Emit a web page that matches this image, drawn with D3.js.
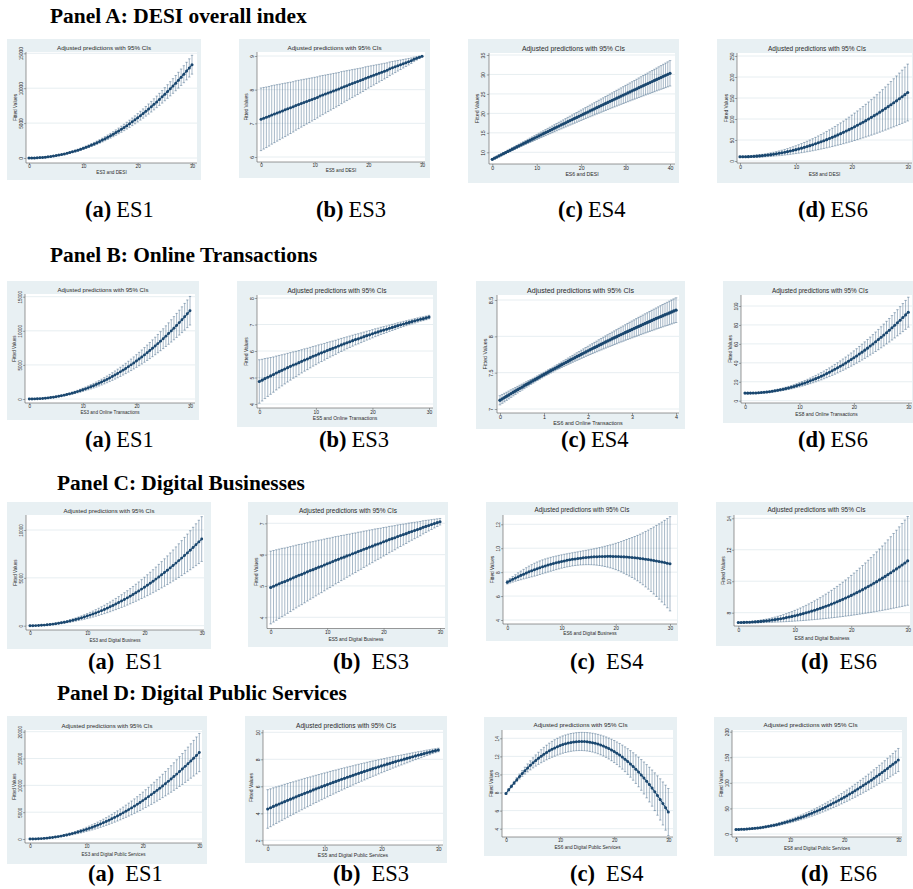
<!DOCTYPE html>
<html><head><meta charset="utf-8">
<script src="https://cdn.jsdelivr.net/npm/d3@7"></script>
<style>body{margin:0;background:#fff}svg{display:block}</style>
</head><body>
<svg id="c" width="913" height="889"></svg>
<script>
// ---------- x grids ----------
const X30=[0,0.5,1,1.5,2,2.5,3,3.5,4,4.5,5,5.5,6,6.5,7,7.5,8,8.5,9,9.5,10,10.5,11,11.5,12,12.5,13,13.5,14,14.5,15,15.5,16,16.5,17,17.5,18,18.5,19,19.5,20,20.5,21,21.5,22,22.5,23,23.5,24,24.5,25,25.5,26,26.5,27,27.5,28,28.5,29,29.5,30];
const X40=[0,0.5,1,1.5,2,2.5,3,3.5,4,4.5,5,5.5,6,6.5,7,7.5,8,8.5,9,9.5,10,10.5,11,11.5,12,12.5,13,13.5,14,14.5,15,15.5,16,16.5,17,17.5,18,18.5,19,19.5,20,20.5,21,21.5,22,22.5,23,23.5,24,24.5,25,25.5,26,26.5,27,27.5,28,28.5,29,29.5,30,30.5,31,31.5,32,32.5,33,33.5,34,34.5,35,35.5,36,36.5,37,37.5,38,38.5,39,39.5,40];
const X4=[0,0.05,0.1,0.15,0.2,0.25,0.3,0.35,0.4,0.45,0.5,0.55,0.6,0.65,0.7,0.75,0.8,0.85,0.9,0.95,1,1.05,1.1,1.15,1.2,1.25,1.3,1.35,1.4,1.45,1.5,1.55,1.6,1.65,1.7,1.75,1.8,1.85,1.9,1.95,2,2.05,2.1,2.15,2.2,2.25,2.3,2.35,2.4,2.45,2.5,2.55,2.6,2.65,2.7,2.75,2.8,2.85,2.9,2.95,3,3.05,3.1,3.15,3.2,3.25,3.3,3.35,3.4,3.45,3.5,3.55,3.6,3.65,3.7,3.75,3.8,3.85,3.9,3.95,4];

// ---------- Panel A: DESI overall index (fitted value, CI half-width) ----------
const A1_fit=[0,3,14,31,54,85,123,167,219,277,343,416,496,583,677,778,887,1003,1126,1257,1395,1541,1693,1854,2022,2197,2380,2571,2770,2976,3189,3411,3640,3878,4123,4376,4636,4905,5182,5467,5760,6061,6370,6688,7013,7347,7689,8039,8398,8765,9141,9525,9917,10318,10727,11145,11572,12007,12451,12904,13365];
const A1_hw=[0,0.4,1.5,3.4,6,9.4,13.5,18.4,24,30.4,37.5,45.4,54,63.4,73.5,84.4,96,108,122,135,150,165,182,198,216,234,254,273,294,315,338,360,384,408,434,459,486,513,542,570,600,630,662,693,726,759,794,828,864,900,938,975,1014,1053,1094,1134,1176,1218,1262,1305,1350];
const A2_fit=[7.12,7.15,7.18,7.21,7.25,7.28,7.31,7.34,7.37,7.40,7.43,7.46,7.49,7.53,7.56,7.59,7.62,7.65,7.68,7.71,7.74,7.77,7.81,7.84,7.87,7.90,7.93,7.96,7.99,8.02,8.06,8.09,8.12,8.15,8.18,8.21,8.24,8.27,8.30,8.34,8.37,8.40,8.43,8.46,8.49,8.52,8.55,8.58,8.62,8.65,8.68,8.71,8.74,8.77,8.80,8.83,8.86,8.90,8.93,8.96,8.99];
const A2_hw=[.93,.915,.90,.885,.869,.854,.839,.824,.809,.794,.779,.763,.748,.733,.718,.703,.688,.672,.657,.642,.627,.612,.597,.582,.566,.551,.536,.521,.506,.491,.476,.460,.445,.430,.415,.400,.385,.369,.354,.339,.324,.309,.294,.279,.263,.248,.233,.218,.203,.188,.173,.157,.142,.127,.112,.097,.082,.066,.051,.036,.021];
const A3_fit=[8.20,8.49,8.78,9.07,9.36,9.65,9.93,10.22,10.51,10.80,11.08,11.37,11.66,11.94,12.23,12.51,12.80,13.08,13.36,13.65,13.93,14.21,14.50,14.78,15.06,15.34,15.62,15.90,16.19,16.47,16.75,17.02,17.30,17.58,17.86,18.14,18.42,18.69,18.97,19.25,19.52,19.80,20.08,20.35,20.63,20.90,21.18,21.45,21.72,22.00,22.27,22.54,22.81,23.09,23.36,23.63,23.90,24.17,24.44,24.71,24.98,25.25,25.52,25.79,26.05,26.32,26.59,26.86,27.12,27.39,27.66,27.92,28.19,28.45,28.72,28.98,29.24,29.51,29.77,30.03,30.30];
const A3_hw=[.15,.17,.19,.21,.23,.26,.28,.30,.33,.35,.37,.40,.42,.45,.48,.50,.53,.56,.59,.62,.65,.68,.71,.74,.77,.80,.83,.86,.90,.93,.96,1.00,1.03,1.07,1.11,1.14,1.18,1.22,1.25,1.29,1.33,1.37,1.41,1.45,1.49,1.53,1.57,1.62,1.66,1.70,1.74,1.79,1.83,1.88,1.92,1.97,2.02,2.06,2.11,2.16,2.21,2.25,2.30,2.35,2.40,2.45,2.51,2.56,2.61,2.66,2.71,2.77,2.82,2.88,2.93,2.99,3.04,3.10,3.16,3.21,3.27];
const A4_fit=[10,10.04,10.17,10.38,10.68,11.06,11.53,12.08,12.72,13.44,14.25,15.14,16.12,17.18,18.33,19.56,20.88,22.28,23.77,25.34,27.0,28.74,30.57,32.48,34.48,36.56,38.73,40.98,43.32,45.74,48.25,50.84,53.52,56.28,59.13,62.06,65.08,68.18,71.37,74.64,78.0,81.44,84.97,88.58,92.28,96.06,99.93,103.88,107.92,112.04,116.25,120.54,124.92,129.38,133.93,138.56,143.28,148.08,152.97,157.94,163.0];
const A4_hw=[2.0,2.02,2.07,2.16,2.29,2.46,2.66,2.89,3.17,3.48,3.83,4.21,4.63,5.08,5.58,6.11,6.67,7.27,7.91,8.59,9.3,10.05,10.83,11.65,12.51,13.41,14.34,15.3,16.31,17.35,18.43,19.54,20.69,21.87,23.1,24.36,25.65,26.98,28.35,29.76,31.2,32.68,34.19,35.74,37.33,38.96,40.62,42.31,44.05,45.82,47.63,49.47,51.35,53.26,55.22,57.21,59.23,61.29,63.39,65.53,67.7];

// ---------- Panel B: Online Transactions ----------
const B1_fit=[0,3,13,29,52,82,118,161,211,267,331,401,478,562,653,751,856,968,1087,1213,1346,1487,1634,1789,1951,2121,2298,2482,2674,2873,3080,3295,3516,3746,3983,4228,4480,4741,5009,5284,5568,5860,6159,6466,6782,7105,7437,7776,8124,8480,8844,9216,9596,9985,10382,10788,11202,11624,12055,12494,12942];
const B1_hw=[0,0.6,2.3,5.2,9.3,14.6,21,28.5,37.3,47.2,58.3,70.5,83.9,98.4,114,131,149,168,189,210,233,257,282,308,336,364,394,425,457,490,524,560,596,634,673,714,755,797,841,886,932,979,1028,1077,1128,1180,1233,1287,1342,1399,1456,1515,1575,1636,1699,1762,1827,1893,1960,2028,2097];
const B2_fit=[4.85,4.90,4.96,5.01,5.06,5.11,5.17,5.22,5.27,5.32,5.37,5.42,5.47,5.51,5.56,5.61,5.66,5.70,5.75,5.80,5.84,5.89,5.93,5.97,6.02,6.06,6.10,6.14,6.19,6.23,6.27,6.31,6.35,6.39,6.43,6.46,6.50,6.54,6.58,6.61,6.65,6.69,6.72,6.76,6.79,6.82,6.86,6.89,6.92,6.96,6.99,7.02,7.05,7.08,7.11,7.14,7.17,7.20,7.22,7.25,7.28];
const B2_hw=[.820,.787,.755,.724,.694,.666,.639,.613,.588,.564,.541,.519,.497,.477,.457,.439,.421,.404,.387,.371,.356,.342,.328,.314,.302,.289,.277,.266,.255,.245,.235,.225,.216,.207,.199,.191,.183,.175,.168,.161,.155,.148,.142,.136,.131,.126,.120,.115,.111,.106,.102,.098,.094,.090,.086,.083,.079,.076,.073,.070,.067];
const B3_fit=[7.120,7.139,7.157,7.175,7.193,7.212,7.230,7.248,7.266,7.284,7.301,7.319,7.337,7.354,7.372,7.389,7.406,7.424,7.441,7.458,7.475,7.492,7.509,7.526,7.542,7.559,7.576,7.592,7.609,7.625,7.641,7.658,7.674,7.690,7.706,7.722,7.737,7.753,7.769,7.785,7.800,7.816,7.831,7.846,7.861,7.877,7.892,7.907,7.922,7.937,7.951,7.966,7.981,7.995,8.010,8.024,8.038,8.053,8.067,8.081,8.095,8.109,8.123,8.137,8.150,8.164,8.178,8.191,8.205,8.218,8.231,8.245,8.258,8.271,8.284,8.297,8.309,8.322,8.335,8.348,8.360];
const B3_hw=[.063,.061,.059,.056,.054,.052,.049,.047,.045,.043,.041,.039,.037,.036,.034,.033,.032,.031,.031,.030,.030,.030,.031,.031,.032,.033,.034,.036,.037,.039,.041,.043,.045,.047,.049,.052,.054,.056,.059,.061,.063,.066,.068,.071,.073,.076,.079,.081,.084,.086,.089,.092,.094,.097,.099,.102,.105,.107,.110,.113,.116,.118,.121,.124,.126,.129,.132,.134,.137,.140,.143,.145,.148,.151,.154,.156,.159,.162,.165,.167,.170];
const B4_fit=[8,7.97,8.00,8.07,8.19,8.36,8.58,8.85,9.17,9.54,9.96,10.42,10.94,11.50,12.12,12.78,13.49,14.25,15.06,15.92,16.83,17.79,18.79,19.85,20.96,22.11,23.31,24.57,25.87,27.22,28.62,30.07,31.56,33.11,34.71,36.35,38.05,39.79,41.59,43.43,45.32,47.26,49.25,51.29,53.38,55.51,57.70,59.94,62.22,64.55,66.94,69.37,71.85,74.38,76.96,79.59,82.27,84.99,87.77,90.60,93.47];
const B4_hw=[0.5,0.5,0.52,0.54,0.57,0.61,0.65,0.71,0.77,0.84,0.93,1.01,1.11,1.22,1.33,1.46,1.59,1.73,1.88,2.03,2.2,2.37,2.56,2.75,2.95,3.16,3.37,3.6,3.83,4.07,4.33,4.58,4.85,5.13,5.41,5.71,6.01,6.32,6.64,6.96,7.3,7.64,8.0,8.36,8.73,9.11,9.49,9.89,10.29,10.7,11.13,11.55,11.99,12.44,12.89,13.36,13.83,14.31,14.8,15.29,15.8];

// ---------- Panel C: Digital Businesses ----------
const C1_fit=[0,3,10,23,40,63,91,123,161,204,252,304,362,425,493,566,644,727,815,908,1006,1109,1217,1330,1449,1572,1700,1833,1972,2115,2264,2417,2575,2739,2907,3081,3259,3443,3632,3825,4024,4228,4437,4650,4869,5093,5322,5556,5795,6039,6288,6542,6801,7065,7334,7608,7887,8171,8461,8755,9054];
const C1_hw=[0,0.7,2.6,5.9,10.4,16.3,23.4,31.9,41.6,52.7,65,78.7,93.6,110,127,146,166,188,211,235,260,287,315,344,374,406,439,474,510,547,585,625,666,708,751,796,842,890,939,989,1040,1093,1147,1202,1258,1316,1375,1436,1498,1561,1625,1691,1758,1826,1895,1966,2038,2112,2187,2263,2340];
const C2_fit=[4.95,4.99,5.03,5.07,5.11,5.14,5.18,5.22,5.26,5.30,5.34,5.37,5.41,5.45,5.49,5.52,5.56,5.60,5.63,5.67,5.71,5.74,5.78,5.82,5.85,5.89,5.92,5.96,5.99,6.03,6.06,6.10,6.13,6.17,6.20,6.24,6.27,6.31,6.34,6.37,6.41,6.44,6.48,6.51,6.54,6.58,6.61,6.64,6.67,6.71,6.74,6.77,6.80,6.83,6.87,6.90,6.93,6.96,6.99,7.02,7.05];
const C2_hw=[1.160,1.142,1.125,1.107,1.090,1.072,1.054,1.037,1.019,1.002,.984,.966,.949,.931,.914,.896,.878,.861,.843,.826,.808,.790,.773,.755,.738,.720,.702,.685,.667,.650,.632,.614,.597,.579,.562,.544,.526,.509,.491,.474,.456,.438,.421,.403,.386,.368,.350,.333,.315,.298,.280,.262,.245,.227,.210,.192,.174,.157,.139,.122,.104];
const C3_fit=[7.160,7.282,7.400,7.514,7.624,7.731,7.833,7.932,8.027,8.118,8.206,8.290,8.371,8.448,8.521,8.591,8.658,8.721,8.780,8.837,8.890,8.940,8.986,9.029,9.070,9.107,9.140,9.171,9.199,9.224,9.246,9.265,9.281,9.294,9.304,9.312,9.317,9.319,9.319,9.315,9.310,9.301,9.290,9.277,9.261,9.243,9.222,9.199,9.174,9.146,9.116,9.084,9.049,9.013,8.974,8.934,8.891,8.846,8.799,8.751,8.700];
const C3_hw=[.15,.19,.23,.27,.32,.36,.40,.44,.48,.51,.54,.56,.57,.58,.585,.585,.58,.575,.57,.565,.56,.555,.55,.55,.55,.555,.56,.57,.585,.60,.62,.645,.675,.71,.75,.795,.845,.90,.96,1.025,1.10,1.18,1.27,1.37,1.47,1.57,1.67,1.78,1.90,2.03,2.17,2.32,2.47,2.63,2.80,2.97,3.15,3.34,3.53,3.73,3.94];
const C4_fit=[7.380,7.381,7.384,7.389,7.397,7.406,7.418,7.432,7.448,7.465,7.486,7.508,7.532,7.559,7.588,7.618,7.651,7.687,7.724,7.763,7.805,7.849,7.895,7.943,7.993,8.046,8.101,8.158,8.217,8.278,8.342,8.408,8.476,8.546,8.619,8.693,8.770,8.849,8.931,9.014,9.100,9.188,9.279,9.371,9.466,9.563,9.663,9.764,9.868,9.975,10.083,10.194,10.307,10.423,10.540,10.660,10.782,10.907,11.034,11.163,11.295];
const C4_hw=[.03,.031,.033,.037,.042,.049,.058,.068,.080,.093,.108,.124,.142,.161,.182,.204,.228,.254,.281,.310,.340,.372,.405,.440,.476,.514,.554,.595,.638,.682,.728,.775,.824,.874,.926,.979,1.034,1.091,1.149,1.209,1.27,1.333,1.397,1.463,1.530,1.599,1.670,1.742,1.816,1.891,1.968,2.046,2.126,2.207,2.290,2.374,2.460,2.548,2.637,2.728,2.82];

// ---------- Panel D: Digital Public Services ----------
const D1_fit=[0,4,18,40,72,112,161,219,286,363,448,542,644,756,877,1007,1146,1293,1450,1616,1790,1974,2166,2367,2578,2797,3025,3262,3508,3764,4028,4301,4582,4873,5173,5482,5800,6126,6462,6807,7160,7523,7894,8274,8664,9062,9469,9885,10310,10745,11188,11640,12100,12570,13049,13537,14034,14539,15054,15578,16110];
const D1_hw=[0,1,4,9,16,25,36,48,63,80,99,120,142,167,194,222,253,285,320,357,395,436,478,522,569,617,668,720,774,831,889,949,1011,1075,1142,1210,1280,1352,1426,1502,1580,1660,1742,1826,1912,2000,2090,2181,2275,2371,2469,2569,2670,2774,2880,2987,3097,3208,3322,3438,3555];
const D2_fit=[4.32,4.41,4.51,4.60,4.69,4.78,4.87,4.96,5.05,5.13,5.22,5.31,5.39,5.48,5.56,5.64,5.73,5.81,5.89,5.97,6.05,6.13,6.21,6.29,6.36,6.44,6.52,6.59,6.67,6.74,6.81,6.89,6.96,7.03,7.10,7.17,7.24,7.31,7.37,7.44,7.51,7.57,7.64,7.70,7.77,7.83,7.89,7.95,8.01,8.07,8.13,8.19,8.25,8.31,8.36,8.42,8.48,8.53,8.59,8.64,8.69];
const D2_hw=[1.430,1.404,1.378,1.353,1.327,1.302,1.277,1.252,1.227,1.202,1.177,1.153,1.129,1.104,1.080,1.056,1.033,1.009,.985,.962,.939,.916,.893,.870,.848,.825,.803,.781,.759,.737,.715,.694,.672,.651,.630,.609,.588,.567,.547,.526,.506,.486,.466,.446,.426,.407,.387,.368,.349,.330,.311,.292,.274,.256,.237,.219,.201,.184,.166,.149,.131];
const D3_fit=[7.890,8.296,8.688,9.064,9.426,9.773,10.105,10.423,10.724,11.012,11.286,11.543,11.787,12.014,12.229,12.427,12.610,12.779,12.933,13.072,13.196,13.305,13.400,13.479,13.543,13.592,13.627,13.646,13.651,13.640,13.615,13.575,13.519,13.449,13.364,13.263,13.148,13.018,12.871,12.711,12.535,12.345,12.139,11.918,11.683,11.431,11.165,10.883,10.587,10.276,9.949,9.607,9.250,8.878,8.491,8.088,7.670,7.237,6.790,6.326,5.848];
const D3_hw=[.10,.12,.15,.18,.22,.27,.32,.38,.44,.50,.56,.62,.67,.72,.77,.81,.85,.88,.91,.93,.95,.96,.97,.98,.985,.99,.995,1.0,1.005,1.01,1.02,1.03,1.04,1.055,1.07,1.09,1.11,1.13,1.16,1.19,1.22,1.25,1.29,1.33,1.37,1.42,1.47,1.52,1.58,1.64,1.70,1.77,1.84,1.92,2.00,2.09,2.18,2.28,2.38,2.49,2.60];
const D4_fit=[9.00,9.04,9.17,9.38,9.68,10.06,10.52,11.06,11.69,12.40,13.18,14.05,15.00,16.03,17.14,18.32,19.58,20.92,22.34,23.83,25.40,27.05,28.77,30.56,32.43,34.37,36.38,38.47,40.63,42.86,45.16,47.53,49.97,52.48,55.06,57.70,60.42,63.20,66.05,68.96,71.94,74.99,78.10,81.28,84.52,87.82,91.19,94.61,98.10,101.65,105.27,108.94,112.67,116.46,120.31,124.22,128.19,132.21,136.29,140.43,144.62];
const D4_hw=[1,1.01,1.02,1.05,1.1,1.15,1.22,1.29,1.38,1.49,1.6,1.73,1.86,2.01,2.18,2.35,2.54,2.73,2.94,3.17,3.4,3.65,3.9,4.17,4.46,4.75,5.06,5.37,5.7,6.05,6.4,6.77,7.14,7.53,7.94,8.35,8.78,9.21,9.66,10.13,10.6,11.09,11.58,12.09,12.62,13.15,13.7,14.25,14.82,15.41,16,16.61,17.22,17.85,18.5,19.15,19.82,20.49,21.18,21.89,22.6];

// ---------- tick labels ----------
const XT30=[0,10,20,30], XT40=[0,10,20,30,40], XT4=[0,1,2,3,4];
const YT_A1=[0,5000,10000,15000], YT_A2=[6,7,8,9], YT_A3=[10,15,20,25,30,35], YT_A4=[0,50,100,150,200,250];
const YT_B1=[0,5000,10000,15000], YT_B2=[4,5,6,7,8], YT_B3=[7,7.5,8,8.5], YT_B4=[0,20,40,60,80,100];
const YT_C1=[0,5000,10000], YT_C2=[4,5,6,7], YT_C3=[4,6,8,10,12], YT_C4=[8,10,12,14];
const YT_D1=[0,5000,10000,15000,20000], YT_D2=[2,4,6,8,10], YT_D3=[4,6,8,10,12,14], YT_D4=[0,50,100,150,200];

// ---------- texts ----------
const chartTitle="Adjusted predictions with 95% CIs";
const yTitle="Fitted Values";
const headers=["Panel A: DESI overall index","Panel B: Online Transactions","Panel C: Digital Businesses","Panel D: Digital Public Services"];
const capLetters=["(a)","(b)","(c)","(d)"];
const capES=["ES1","ES3","ES4","ES6"];
const xLabBase=["ES3","ES5","ES6","ES8"];
const xLabTopic=["DESI","Online Transactions","Digital Business","Digital Public Services"];

// ---------- layout ----------
const panels=[
 {x:X30,fit:A1_fit,hw:A1_hw,xt:XT30,yt:YT_A1,row:0,col:0,box:[7,39,201,180],plot:[26,52,197,163],xr:[29,192],yr:[158,53.3],ty:48.3,xty:172.3,fs:1.0,tw:94},
 {x:X30,fit:A2_fit,hw:A2_hw,xt:XT30,yt:YT_A2,row:0,col:1,box:[239,39,430,178],plot:[257,52,425,162],xr:[261,422],yr:[157,56],ty:48,xty:170.5,fs:1.0,tw:94},
 {x:X40,fit:A3_fit,hw:A3_hw,xt:XT40,yt:YT_A3,row:0,col:2,box:[468,39,679,183],plot:[489,53,675,164],xr:[492.3,670],yr:[152.3,55],ty:48.3,xty:174,fs:1.08,tw:103},
 {x:X30,fit:A4_fit,hw:A4_hw,xt:XT30,yt:YT_A4,row:0,col:3,box:[717,39,913,183],plot:[737,53,912,163],xr:[740,907.7],yr:[161,56],ty:48.3,xty:174.3,fs:1.04,tw:98},
 {x:X30,fit:B1_fit,hw:B1_hw,xt:XT30,yt:YT_B1,row:1,col:0,box:[7,281,199,420],plot:[25,294,195,403],xr:[29.3,190],yr:[399,296.7],ty:290,xty:412,fs:0.97,tw:91},
 {x:X30,fit:B2_fit,hw:B2_hw,xt:XT30,yt:YT_B2,row:1,col:1,box:[237,281,437,427],plot:[257,295,433,408],xr:[259.3,429],yr:[404,298],ty:290.7,xty:418.3,fs:1.05,tw:99},
 {x:X4,fit:B3_fit,hw:B3_hw,xt:XT4,yt:YT_B3,row:1,col:2,box:[476,281,685,429],plot:[497,295,679,413],xr:[500,676],yr:[409,300],ty:290.7,xty:422.7,fs:1.13,tw:107},
 {x:X30,fit:B4_fit,hw:B4_hw,xt:XT30,yt:YT_B4,row:1,col:3,box:[723,281,913,423],plot:[741,295,912,403],xr:[745,908.3],yr:[400.7,306],ty:290.7,xty:414,fs:1.02,tw:96},
 {x:X30,fit:C1_fit,hw:C1_hw,xt:XT30,yt:YT_C1,row:2,col:0,box:[7,502,211,649],plot:[26,515,204,630],xr:[30,201.7],yr:[625.7,530],ty:510.7,xty:640,fs:0.97,tw:91},
 {x:X30,fit:C2_fit,hw:C2_hw,xt:XT30,yt:YT_C2,row:2,col:1,box:[248,502,448,647],plot:[267,515,445,628.5],xr:[270.7,440],yr:[617.3,523.3],ty:510.7,xty:639.5,fs:1.04,tw:98},
 {x:X30,fit:C3_fit,hw:C3_hw,xt:XT30,yt:YT_C3,row:2,col:2,box:[486,502,678,641],plot:[503,515,677,624],xr:[507.3,670],yr:[620,524.3],ty:510,xty:633.8,fs:1.01,tw:95},
 {x:X30,fit:C4_fit,hw:C4_hw,xt:XT30,yt:YT_C4,row:2,col:3,box:[716,502,913,646],plot:[734,515,910,626],xr:[738.3,907.7],yr:[612.7,518.3],ty:510,xty:638.3,fs:1.04,tw:98},
 {x:X30,fit:D1_fit,hw:D1_hw,xt:XT30,yt:YT_D1,row:3,col:0,box:[7,716,207,864],plot:[25,730,202,843],xr:[30,199.3],yr:[839,731.7],ty:725.5,xty:854,fs:0.97,tw:91},
 {x:X30,fit:D2_fit,hw:D2_hw,xt:XT30,yt:YT_D2,row:3,col:1,box:[245,716,447,863],plot:[263,730,443,845],xr:[267.7,438.3],yr:[840.3,732.3],ty:725.5,xty:855,fs:1.06,tw:100},
 {x:X30,fit:D3_fit,hw:D3_hw,xt:XT30,yt:YT_D3,row:3,col:2,box:[484,717,677,856],plot:[502,730,673,837],xr:[506,668.3],yr:[828.7,738.3],ty:725,xty:847.7,fs:1.0,tw:94},
 {x:X30,fit:D4_fit,hw:D4_hw,xt:XT30,yt:YT_D4,row:3,col:3,box:[714,717,907,856],plot:[732,730,902,837],xr:[736,898.3],yr:[834,731.7],ty:725,xty:848,fs:1.0,tw:94}
];
const headerPos=[[50,23],[50,262],[57,490],[57,700]];
const capX=[[85,316,558,798],[85,319,561,798],[88,333,570,801],[88,333,570,801]];
const capY=[217,447,669,881];
const capGap=[5,5,11,11];

const BG="#e8f0f3", GRID="#e1eaed", AX="#555", NAVY="#1a476f", TXT="#2a2a2a";
const SANS="'Liberation Sans', Arial, sans-serif", SERIF="'Liberation Serif','Times New Roman', serif";

const svg=d3.select("#c");

panels.forEach(p=>{
  const g=svg.append("g");
  const [bx0,by0,bx1,by1]=p.box, [pl,pt,pr,pb]=p.plot, fs=p.fs;
  g.append("rect").attr("x",bx0).attr("y",by0).attr("width",bx1-bx0).attr("height",by1-by0).attr("fill",BG);
  g.append("rect").attr("x",pl).attr("y",pt).attr("width",pr-pl).attr("height",pb-pt).attr("fill","#fff");
  const x=d3.scaleLinear().domain([p.xt[0],p.xt[p.xt.length-1]]).range(p.xr);
  const y=d3.scaleLinear().domain([p.yt[0],p.yt[p.yt.length-1]]).range(p.yr);

  // title, measured to calibrate small-text size in this panel
  const tcx=(bx0+Math.min(bx1,913))/2+(bx1>=913?2:0);
  const title=g.append("text").attr("x",tcx).attr("y",p.ty).attr("dy","0.35em").attr("text-anchor","middle")
    .attr("font-size",6.2*fs).attr("font-family",SANS).attr("fill",TXT).text(chartTitle);
  const w=title.node().getComputedTextLength();
  const k=(w>0)?p.tw/w:1;
  title.attr("font-size",6.2*fs*k);
  const small=4.7*fs*k;

  // gridlines
  g.append("g").selectAll("line").data(p.yt).join("line")
    .attr("x1",pl).attr("x2",pr).attr("y1",d=>y(d)).attr("y2",d=>y(d))
    .attr("stroke",GRID).attr("stroke-width",0.8);
  // y axis
  const ya=g.append("g").attr("transform",`translate(${pl},0)`)
    .call(d3.axisLeft(y).tickValues(p.yt).tickSize(2*fs).tickSizeOuter(0).tickFormat(d3.format("~g")));
  ya.select(".domain").remove();
  ya.selectAll(".tick line").attr("stroke",AX).attr("stroke-width",0.5);
  ya.selectAll(".tick text").attr("transform","rotate(-90)").attr("x",0).attr("y",-3.3*fs).attr("dy",null)
    .attr("text-anchor","middle").attr("font-size",small).attr("font-family",SANS).attr("fill",TXT);
  // x axis
  const xa=g.append("g").attr("transform",`translate(0,${pb})`)
    .call(d3.axisBottom(x).tickValues(p.xt).tickSize(2*fs).tickSizeOuter(0).tickFormat(d3.format("~g")));
  xa.select(".domain").remove();
  xa.selectAll(".tick line").attr("stroke",AX).attr("stroke-width",0.5);
  xa.selectAll(".tick text").attr("y",2.1*fs).attr("dy","0.71em").attr("font-size",small).attr("font-family",SANS).attr("fill",TXT);
  // axis lines
  g.append("line").attr("x1",pl).attr("x2",pl).attr("y1",pt).attr("y2",pb).attr("stroke",AX).attr("stroke-width",0.6);
  g.append("line").attr("x1",pl).attr("x2",pr).attr("y1",pb).attr("y2",pb).attr("stroke",AX).attr("stroke-width",0.6);
  // axis titles
  g.append("text").attr("x",(pl+pr)/2).attr("y",p.xty).attr("dy","0.35em").attr("text-anchor","middle")
    .attr("font-size",small).attr("font-family",SANS).attr("fill",TXT).text(xLabBase[p.col]+" and "+xLabTopic[p.row]);
  g.append("text").attr("transform",`translate(${pl-9*fs},${(pt+pb)/2}) rotate(-90)`).attr("text-anchor","middle")
    .attr("font-size",small).attr("font-family",SANS).attr("fill",TXT).text(yTitle);
  // data
  const pts=p.x.map((v,i)=>({x:v,m:p.fit[i],h:p.hw[i]}));
  const cw=1.2*fs;
  const ci=g.append("g").attr("stroke",NAVY).attr("stroke-width",0.45).attr("stroke-opacity",0.85);
  ci.selectAll("line.v").data(pts).join("line").attr("class","v")
    .attr("x1",d=>x(d.x)).attr("x2",d=>x(d.x)).attr("y1",d=>y(d.m-d.h)).attr("y2",d=>y(d.m+d.h));
  ci.selectAll("line.t").data(pts).join("line").attr("class","t")
    .attr("x1",d=>x(d.x)-cw).attr("x2",d=>x(d.x)+cw).attr("y1",d=>y(d.m+d.h)).attr("y2",d=>y(d.m+d.h));
  ci.selectAll("line.b").data(pts).join("line").attr("class","b")
    .attr("x1",d=>x(d.x)-cw).attr("x2",d=>x(d.x)+cw).attr("y1",d=>y(d.m-d.h)).attr("y2",d=>y(d.m-d.h));
  g.append("path").datum(pts).attr("fill","none").attr("stroke",NAVY).attr("stroke-width",1.1)
    .attr("d",d3.line().x(d=>x(d.x)).y(d=>y(d.m)));
  g.append("g").selectAll("circle").data(pts).join("circle")
    .attr("cx",d=>x(d.x)).attr("cy",d=>y(d.m)).attr("r",1.5*fs).attr("fill",NAVY);
});

// headers
headers.forEach((h,i)=>{
  svg.append("text").attr("x",headerPos[i][0]).attr("y",headerPos[i][1])
    .attr("font-family",SERIF).attr("font-weight","bold").attr("font-size",21.4).attr("fill","#000").text(h);
});
// captions
capY.forEach((cy,r)=>{
  capLetters.forEach((L,c)=>{
    const t=svg.append("text").attr("x",capX[r][c]).attr("y",cy).attr("font-family",SERIF).attr("font-size",22.5).attr("fill","#000");
    t.append("tspan").attr("font-weight","bold").text(L);
    t.append("tspan").attr("dx",capGap[r]).text(capES[c]);
  });
});
</script>
</body></html>
